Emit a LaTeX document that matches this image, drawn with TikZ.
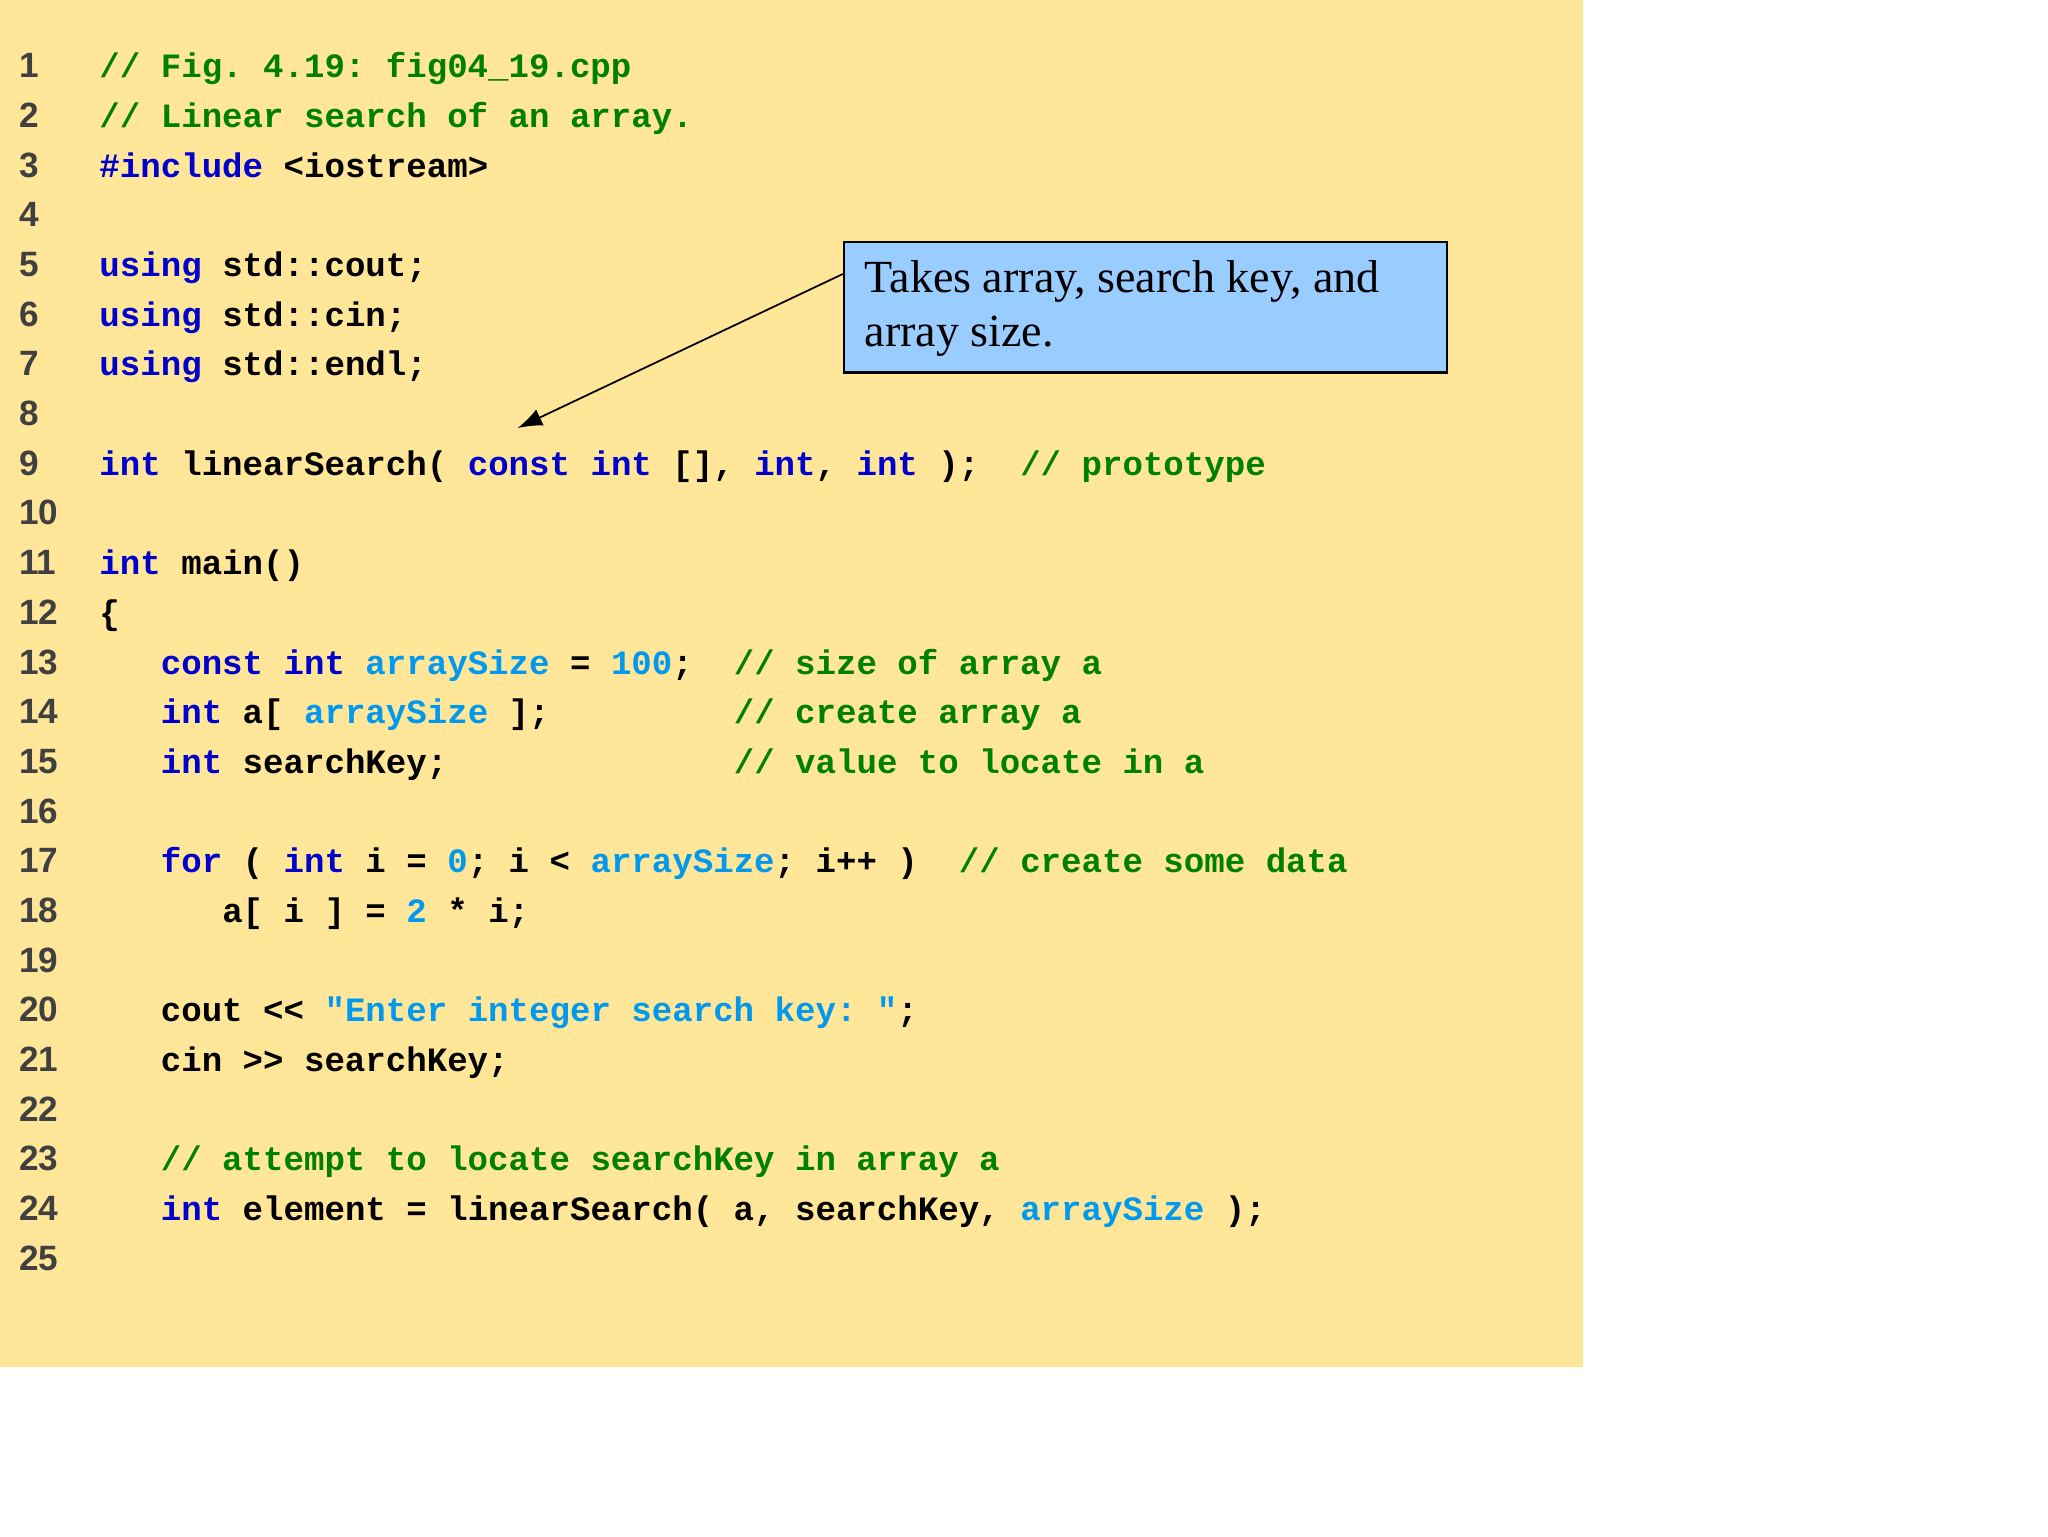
\documentclass[tikz,border=0pt]{standalone}
\usepackage{fontspec}
\usetikzlibrary{arrows.meta}
\setmainfont{Liberation Serif}
\newfontfamily\codefont{Liberation Mono}
\newfontfamily\numfont{Liberation Sans}
\definecolor{bgy}{HTML}{FFE699}
\definecolor{boxb}{HTML}{99CCFF}
\definecolor{kw}{HTML}{0000CC}
\definecolor{cm}{HTML}{008000}
\definecolor{lb}{HTML}{0099EE}
\definecolor{ng}{HTML}{404040}
\newcommand{\K}[1]{\textcolor{kw}{#1}}
\newcommand{\C}[1]{\textcolor{cm}{#1}}
\newcommand{\B}[1]{\textcolor{lb}{#1}}
\tikzset{
  code/.style={anchor=base west,inner sep=0pt,font=\codefont\bfseries\fontsize{9.7}{11}\selectfont},
  lnum/.style={anchor=base west,inner sep=0pt,text=ng,font=\numfont\bfseries\fontsize{10}{12}\selectfont},
  callout/.style={draw=black,fill=boxb,line width=0.6pt,anchor=north west,minimum width=458*0.01317cm,minimum height=99*0.01317cm,inner sep=0pt},
}
\begin{document}
\begin{tikzpicture}[x=0.01317cm,y=-0.01317cm]
\useasboundingbox (0,0) rectangle (1555,1166.3);
\fill[bgy] (0,0) rectangle (1202,1038);
\foreach \n in {1,...,25}{
  \node[lnum] (n\n) at (14,{50+(\n-1)*37.73+9}) {\n};
}
\def\Y#1{{50+(#1-1)*37.73+9}}
\node[code] (l1) at (75,\Y{1}) {\C{//~Fig.~4.19:~fig04\_19.cpp}};
\node[code] (l2) at (75,\Y{2}) {\C{//~Linear~search~of~an~array.}};
\node[code] (l3) at (75,\Y{3}) {\K{\#include}~<iostream>};
\node[code] (l5) at (75,\Y{5}) {\K{using}~std::cout;};
\node[code] (l6) at (75,\Y{6}) {\K{using}~std::cin;};
\node[code] (l7) at (75,\Y{7}) {\K{using}~std::endl;};
\node[code] (l9) at (75,\Y{9}) {\K{int}~linearSearch(~\K{const}~\K{int}~[],~\K{int},~\K{int}~);~~\C{//~prototype}};
\node[code] (l11) at (75,\Y{11}) {\K{int}~main()};
\node[code] (l12) at (75,\Y{12}) {\{};
\node[code] (l13) at (75,\Y{13}) {~~~\K{const}~\K{int}~\B{arraySize}~=~\B{100};~~\C{//~size~of~array~a}};
\node[code] (l14) at (75,\Y{14}) {~~~\K{int}~a[~\B{arraySize}~];~~~~~~~~~\C{//~create~array~a}};
\node[code] (l15) at (75,\Y{15}) {~~~\K{int}~searchKey;~~~~~~~~~~~~~~\C{//~value~to~locate~in~a}};
\node[code] (l17) at (75,\Y{17}) {~~~\K{for}~(~\K{int}~i~=~\B{0};~i~<~\B{arraySize};~i++~)~~\C{//~create~some~data}};
\node[code] (l18) at (75,\Y{18}) {~~~~~~a[~i~]~=~\B{2}~*~i;};
\node[code] (l20) at (75,\Y{20}) {~~~cout~<<~\B{"Enter~integer~search~key:~"};};
\node[code] (l21) at (75,\Y{21}) {~~~cin~>>~searchKey;};
\node[code] (l23) at (75,\Y{23}) {~~~\C{//~attempt~to~locate~searchKey~in~array~a}};
\node[code] (l24) at (75,\Y{24}) {~~~\K{int}~element~=~linearSearch(~a,~searchKey,~\B{arraySize}~);};
\node[callout] (box) at (640,183) {};
\node[anchor=north west,align=left,inner sep=0pt,font=\fontsize{13.1}{15.6}\selectfont] (txt) at (656,197) {Takes array, search key, and\\array size.};
\coordinate (tip) at (393,325);
\draw[-{Latex[length=7pt,width=5pt]},line width=0.5pt] (box.west |- 0,208) -- (tip);
\end{tikzpicture}
\end{document}
